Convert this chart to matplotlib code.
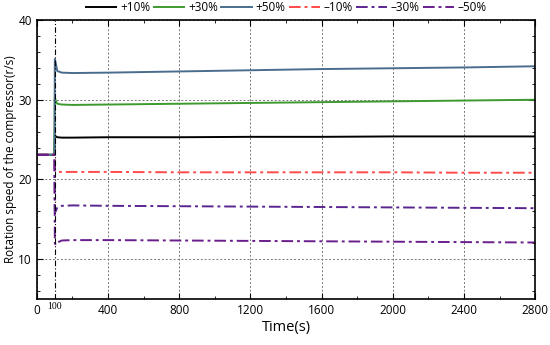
import matplotlib.pyplot as plt
from matplotlib.ticker import MultipleLocator

plt.rcParams['font.family'] = ['Open Sans', 'DejaVu Sans']

# time points (s) and compressor speed (r/s)
t = [0, 99, 101, 106, 115, 140, 200, 400, 800, 1200, 1600, 2000, 2400, 2800]
p10 = [23.1, 23.1, 25.6, 25.4, 25.3, 25.25, 25.25, 25.3, 25.3, 25.35, 25.35, 25.4, 25.4, 25.4]
p30 = [23.1, 23.1, 30.3, 29.9, 29.5, 29.4, 29.35, 29.4, 29.5, 29.6, 29.7, 29.8, 29.9, 30.0]
p50 = [23.1, 23.1, 35.1, 34.6, 33.6, 33.4, 33.35, 33.4, 33.55, 33.7, 33.85, 33.95, 34.05, 34.2]
m10 = [23.1, 23.1, 21.2, 21.0, 20.95, 20.95, 20.95, 20.95, 20.9, 20.9, 20.9, 20.9, 20.85, 20.85]
m30 = [23.1, 23.1, 16.2, 16.0, 16.5, 16.7, 16.75, 16.7, 16.65, 16.6, 16.55, 16.5, 16.45, 16.4]
m50 = [23.1, 23.1, 12.0, 11.8, 12.1, 12.35, 12.4, 12.4, 12.35, 12.3, 12.25, 12.2, 12.15, 12.1]

series = [
    ('+10%', p10, 'black', '-'),
    ('+30%', p30, '#3d9a2e', '-'),
    ('+50%', p50, '#4a6d8e', '-'),
    ('\u201310%', m10, '#ff4a4a', (0, (6, 2, 1.5, 2))),
    ('\u201330%', m30, '#5a2590', (0, (6, 2, 1.5, 2))),
    ('\u201350%', m50, '#6a1e8c', (0, (6, 2, 1.5, 2))),
]

fig = plt.figure(figsize=(5.5, 3.45), dpi=100)
ax = fig.add_axes([0.067, 0.133, 0.906, 0.809])

for name, y, c, ls in series:
    ax.plot(t, y, color=c, linestyle=ls, linewidth=1.4, label=name)

ax.axvline(100, color='black', linestyle=(0, (5, 2, 1, 2)), linewidth=0.8)

ax.set_xlim(0, 2800)
ax.set_ylim(5, 40)
ax.xaxis.set_major_locator(MultipleLocator(400))
ax.xaxis.set_minor_locator(MultipleLocator(200))
ax.set_yticks([10, 20, 30, 40])
ax.yaxis.set_minor_locator(MultipleLocator(2))
ax.tick_params(which='both', direction='in', top=True, right=True, labelsize=8.5)
ax.tick_params(which='major', length=4)
ax.tick_params(which='minor', length=2.5)
ax.tick_params(axis='x', labeltop=False)
ax.tick_params(axis='y', labelright=False)
ax.grid(True, which='major', color='#777777', linestyle=(0, (2, 2)), linewidth=0.7)

ax.text(100, -0.012, '100', transform=ax.get_xaxis_transform(), ha='center', va='top',
        fontsize=7, family='Liberation Serif')

ax.set_xlabel('Time(s)', fontsize=10.5, labelpad=2)
ax.set_ylabel('Rotation speed of the compressor(r/s)', fontsize=8.5, labelpad=1)

for s in ax.spines.values():
    s.set_linewidth(1.2)

ax.legend(loc='lower center', bbox_to_anchor=(0.5, 1.0), ncol=6, frameon=False,
          fontsize=8.5, handlelength=2.6, columnspacing=0.3, handletextpad=0.3,
          borderaxespad=0.1)

fig.savefig('out.png', dpi=100)
